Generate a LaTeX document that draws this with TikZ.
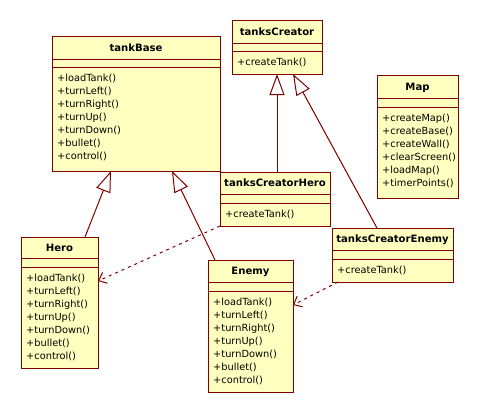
\documentclass[tikz,border=0pt]{standalone}
\usepackage{fontspec}
\setmainfont{DejaVu Sans}
\usetikzlibrary{arrows.meta,calc,fit}

\definecolor{umlline}{RGB}{128,0,0}
\definecolor{umlfill}{RGB}{255,255,192}

\tikzset{
  cls/.style={draw=umlline, fill=umlfill, line width=1pt, rectangle,
    inner sep=0pt, outer sep=0pt},
  divider/.style={draw=umlline, line width=1pt},
  clstitle/.style={font=\fontsize{10.1}{12}\selectfont\bfseries, anchor=base,
    inner sep=0pt},
  clsop/.style={font=\fontsize{9.8}{13}\selectfont, anchor=base west,
    inner sep=0pt},
  gen/.style={draw=umlline, line width=1pt,
    -{Triangle[open, length=21pt, width=15pt, line width=1pt]}},
  dep/.style={draw=umlline, line width=1pt, dash pattern=on 3pt off 4pt,
    -{Straight Barb[length=7pt, width=12pt, line width=1pt]}}
}

% #1 name, #2 left, #3 top, #4 right, #5 bottom,
% #6 first divider, #7 second divider, #8 title, #9 operations
\newcommand\umlclass[9]{%
  \coordinate (#1-nw) at (#2,#3);
  \coordinate (#1-se) at (#4,#5);
  \node[cls, fit=(#1-nw)(#1-se)] (#1) {};
  \draw[divider] (#2,#6) -- (#4,#6);
  \draw[divider] (#2,#7) -- (#4,#7);
  \node[clstitle] at ({(#2+#4)/2},{(#3+#6)/2+3.6}) {#8};
  \foreach \op [count=\i] in {#9}
    \node[clsop] at ({#2+5},{#7+14.5+13*(\i-1)}) {\op};
}

\begin{document}
\begin{tikzpicture}[x=1pt, y=-1pt]
  \useasboundingbox (0,0) rectangle (477,413);

  \umlclass{tankBase}{52}{36}{220}{171}{59}{67}{tankBase}
    {+loadTank(),+turnLeft(),+turnRight(),+turnUp(),+turnDown(),+bullet(),+control()}
  \umlclass{tanksCreator}{232}{20}{322}{74}{43}{51}{tanksCreator}
    {+createTank()}
  \umlclass{Map}{377}{75}{458}{198}{98}{107}{Map}
    {+createMap(),+createBase(),+createWall(),+clearScreen(),+loadMap(),+timerPoints()}
  \umlclass{tanksCreatorHero}{220}{172}{330}{226}{194}{203}{tanksCreatorHero}
    {+createTank()}
  \umlclass{tanksCreatorEnemy}{332}{228}{453}{282}{250}{259}{tanksCreatorEnemy}
    {+createTank()}
  \umlclass{Hero}{21}{237}{98}{368}{258}{267}{Hero}
    {+loadTank(),+turnLeft(),+turnRight(),+turnUp(),+turnDown(),+bullet(),+control()}
  \umlclass{Enemy}{208}{260}{293}{392}{282}{291}{Enemy}
    {+loadTank(),+turnLeft(),+turnRight(),+turnUp(),+turnDown(),+bullet(),+control()}

  % generalisations
  \draw[gen] ($(Hero.north west)+(64,0)$) -- ($(tankBase.south west)+(59,0)$);
  \draw[gen] ($(Enemy.north west)+(7,0)$) -- ($(tankBase.south west)+(120,0)$);
  \draw[gen] ($(tanksCreatorHero.north west)+(57,0)$) -- ($(tanksCreator.south west)+(45,0)$);
  \draw[gen] ($(tanksCreatorEnemy.north west)+(45,0)$) -- ($(tanksCreator.south west)+(61,0)$);

  % dependencies
  \draw[dep] (tanksCreatorHero.south west) -- ($(Hero.north east)+(0,44)$);
  \draw[dep] ($(tanksCreatorEnemy.south west)+(6,0)$) -- ($(Enemy.north east)+(0,45)$);
\end{tikzpicture}
\end{document}
